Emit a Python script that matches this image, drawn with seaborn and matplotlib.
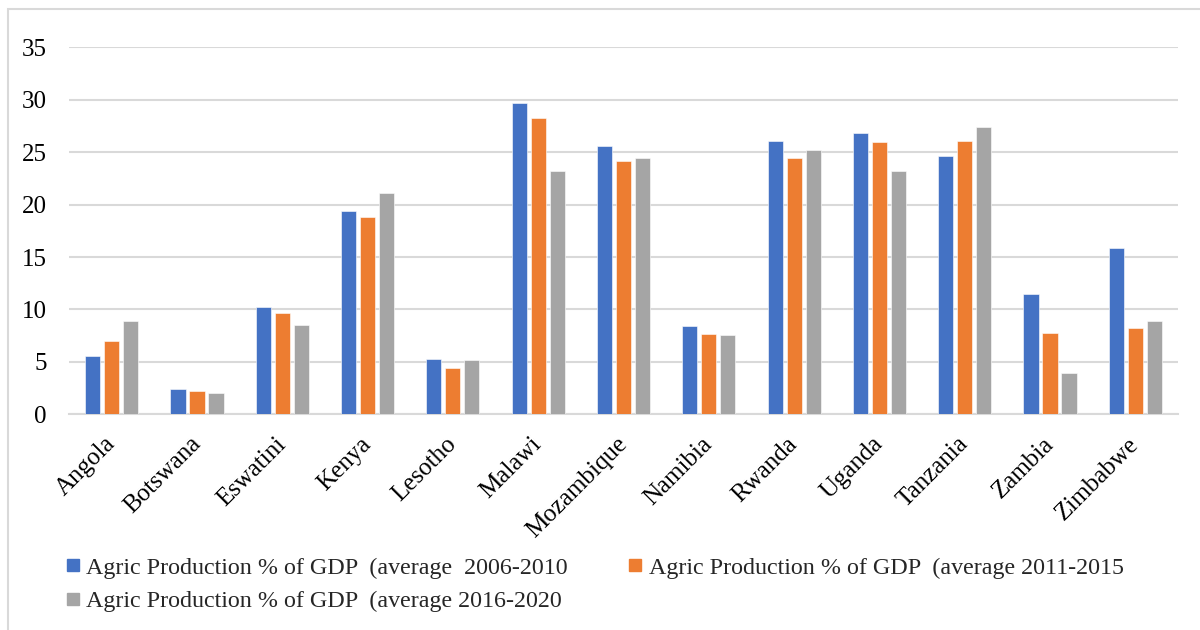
import matplotlib
matplotlib.use("Agg")
import matplotlib.pyplot as plt
from matplotlib.lines import Line2D
import seaborn as sns
import pandas as pd

countries = ["Angola", "Botswana", "Eswatini", "Kenya", "Lesotho", "Malawi",
             "Mozambique", "Namibia", "Rwanda", "Uganda", "Tanzania", "Zambia",
             "Zimbabwe"]
avg_2006_2010 = [5.6, 2.4, 10.2, 19.4, 5.3, 29.7, 25.6, 8.4, 26.1, 26.8, 24.6, 11.5, 15.9]
avg_2011_2015 = [7.0, 2.2, 9.7, 18.8, 4.4, 28.3, 24.2, 7.7, 24.4, 26.0, 26.1, 7.8, 8.2]
avg_2016_2020 = [8.9, 2.0, 8.5, 21.1, 5.2, 23.2, 24.4, 7.6, 25.2, 23.2, 27.4, 3.9, 8.9]
series_labels = [
    "Agric Production % of GDP  (average  2006-2010",
    "Agric Production % of GDP  (average 2011-2015",
    "Agric Production % of GDP  (average 2016-2020",
]
y_ticks = [0, 5, 10, 15, 20, 25, 30, 35]
colors = ["#4472C4", "#ED7D31", "#A5A5A5"]

frames = []
for label, vals in zip(series_labels, [avg_2006_2010, avg_2011_2015, avg_2016_2020]):
    frames.append(pd.DataFrame({"country": countries, "value": vals, "series": label}))
df = pd.concat(frames, ignore_index=True)

sns.set_theme(style="white")
plt.rcParams["font.family"] = ["Liberation Serif", "DejaVu Serif"]

fig = plt.figure(figsize=(12, 6.3), dpi=100)
ax = fig.add_axes([69 / 1200, 1 - 414.3 / 630, (1178 - 69) / 1200, (414.3 - 47.3) / 630])

sns.barplot(data=df, x="country", y="value", hue="series", order=countries,
            hue_order=series_labels, palette=colors, width=0.668, gap=0.2,
            edgecolor="white", linewidth=0.4, saturation=1, ax=ax, legend=False,
            errorbar=None, zorder=3)

ax.set_xlim(-0.5, len(countries) - 0.5)
ax.set_ylim(0, 35)
ax.set_yticks(y_ticks)
ax.yaxis.grid(True, color="#D9D9D9", linewidth=1.5, zorder=0)
ax.set_axisbelow(True)
for s in ["left", "right", "top"]:
    ax.spines[s].set_visible(False)
ax.spines["bottom"].set_color("#D9D9D9")
ax.spines["bottom"].set_linewidth(1.5)
ax.set_xlabel("")
ax.set_ylabel("")
ax.tick_params(axis="y", length=0, pad=16, labelsize=18, labelcolor="#000000")
ax.tick_params(axis="x", length=0, pad=19, labelsize=18, labelcolor="#000000")
for t in ax.get_xticklabels():
    t.set_rotation(45)
    t.set_ha("right")
    t.set_va("center")
    t.set_rotation_mode("anchor")

handles = [Line2D([0], [0], marker="s", linestyle="none", markersize=9,
                  markerfacecolor=c, markeredgecolor=c) for c in colors]
order = [0, 2, 1]
fig.legend([handles[i] for i in order], [series_labels[i] for i in order],
           loc="upper left", bbox_to_anchor=(66 / 1200, 1 - 557 / 630), ncol=2,
           frameon=False, fontsize=17.3, handlelength=0.6, handletextpad=0.25,
           columnspacing=2.5, labelspacing=0.48, borderaxespad=0, borderpad=0)

# chart frame
fig.add_artist(plt.Rectangle((7.5 / 1200, -0.1), 1.2, 1 - 9 / 630 + 0.1,
                             transform=fig.transFigure, fill=False,
                             edgecolor="#D9D9D9", linewidth=1.5))

fig.savefig("out.png", dpi=100)
